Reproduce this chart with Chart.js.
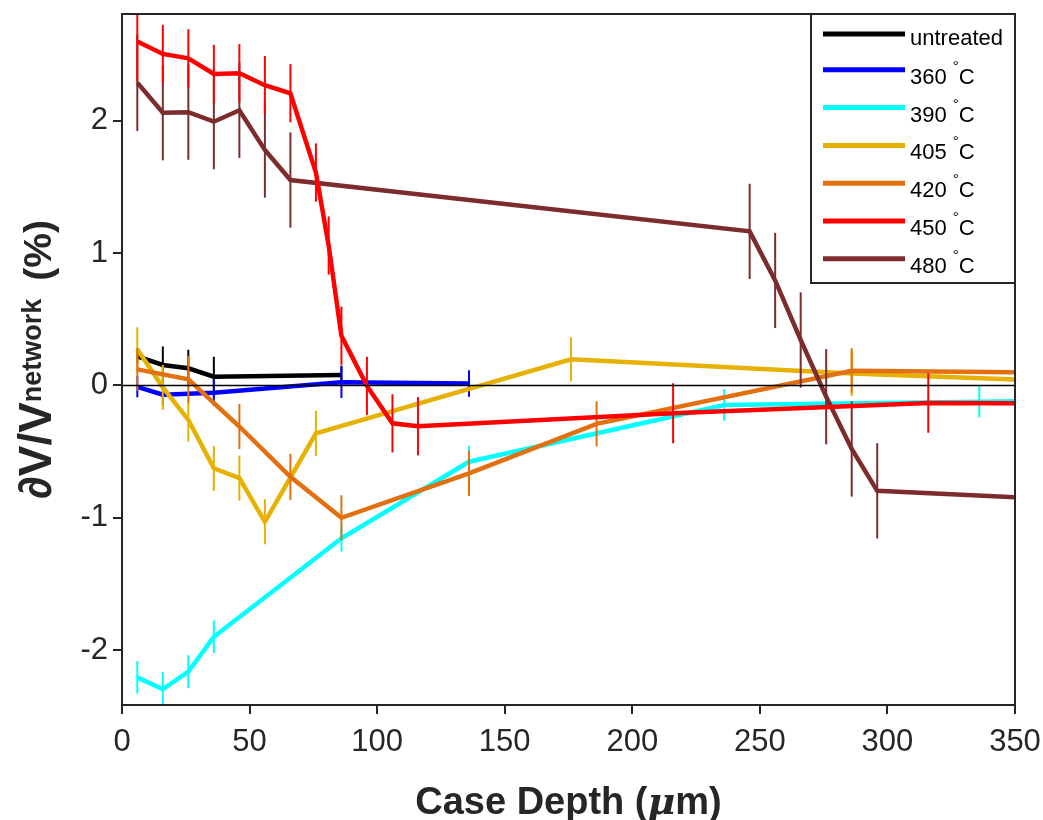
<!DOCTYPE html>
<html>
<head>
<meta charset="utf-8">
<title>Case depth</title>
<script src="https://cdn.jsdelivr.net/npm/chart.js@4.4.1/dist/chart.umd.min.js"></script>
<style>
  html, body { margin: 0; background: #fff; }
  canvas { display: block; }
</style>
</head>
<body>
<canvas id="chart" width="1043" height="820"></canvas>
<script>
// ── Data: case depth (µm), dV/V (%) and error half-widths per treatment ─────
const untreatedDepth = [6, 16, 26, 36, 86];
const untreatedDv    = [0.22, 0.155, 0.13, 0.067, 0.08];
const untreatedErr   = [0.05, 0.14, 0.14, 0.15, 0.07];

const t360Depth = [6, 16, 36, 86, 136];
const t360Dv    = [-0.01, -0.07, -0.055, 0.025, 0.015];
const t360Err   = [0.08, 0.08, 0.1, 0.12, 0.1];

const t390Depth = [6, 16, 26, 36, 86, 136, 236, 336, 350];
const t390Dv    = [-2.206, -2.296, -2.163, -1.899, -1.155, -0.576, -0.147, -0.122, -0.12];
const t390Err   = [0.123, 0.13, 0.125, 0.123, 0.1, 0.12, 0.12, 0.12, null];

const t405Depth = [6, 16, 26, 36, 46, 56, 76, 176, 286, 350];
const t405Dv    = [0.274, -0.014, -0.26, -0.626, -0.70, -1.03, -0.362, 0.198, 0.09, 0.045];
const t405Err   = [0.166, 0.17, 0.164, 0.17, 0.17, 0.17, 0.17, 0.167, 0.17, null];

const t420Depth = [6, 26, 46, 66, 86, 136, 186, 286, 350];
const t420Dv    = [0.122, 0.047, -0.31, -0.69, -1.0, -0.664, -0.29, 0.112, 0.1];
const t420Err   = [0.16, 0.176, 0.17, 0.174, 0.17, 0.17, 0.17, 0.17, null];

const t450Depth = [6, 16, 26, 36, 46, 56, 66, 76, 81, 86, 96, 106, 116, 216, 316, 350];
const t450Dv    = [2.6, 2.506, 2.473, 2.355, 2.36, 2.27, 2.209, 1.61, 1.058, 0.376, -0.003, -0.286, -0.308, -0.21, -0.132, -0.135];
const t450Err   = [0.3, 0.22, 0.22, 0.22, 0.22, 0.22, 0.22, 0.22, 0.22, 0.22, 0.22, 0.22, 0.22, 0.227, 0.225, null];

const t480Depth = [6, 16, 26, 36, 46, 56, 66, 246, 256, 266, 276, 286, 296, 350];
const t480Dv    = [2.289, 2.062, 2.066, 1.994, 2.08, 1.78, 1.553, 1.165, 0.794, 0.344, -0.085, -0.48, -0.796, -0.845];
const t480Err   = [0.365, 0.36, 0.36, 0.36, 0.36, 0.36, 0.36, 0.36, 0.36, 0.36, 0.36, 0.36, 0.36, null];

const xTicks = [0, 50, 100, 150, 200, 250, 300, 350];
const yTicks = [-2, -1, 0, 1, 2];

// ── Style ────────────────────────────────────────────────────────────────────
const FONT = "'Liberation Sans', Arial, Helvetica, sans-serif";
const AXIS = '#262626';

const series = [
  { label: 'untreated', depth: untreatedDepth, dv: untreatedDv, err: untreatedErr, color: '#000000', z: 7 },
  { label: '360 °C',    depth: t360Depth,      dv: t360Dv,      err: t360Err,      color: '#0000ff', z: 6 },
  { label: '390 °C',    depth: t390Depth,      dv: t390Dv,      err: t390Err,      color: '#00ffff', z: 5 },
  { label: '405 °C',    depth: t405Depth,      dv: t405Dv,      err: t405Err,      color: '#e6b100', z: 4 },
  { label: '420 °C',    depth: t420Depth,      dv: t420Dv,      err: t420Err,      color: '#e2700f', z: 3 },
  { label: '450 °C',    depth: t450Depth,      dv: t450Dv,      err: t450Err,      color: '#ff0000', z: 1 },
  { label: '480 °C',    depth: t480Depth,      dv: t480Dv,      err: t480Err,      color: '#7c2c2c', z: 2 },
];

// ── Plugins ──────────────────────────────────────────────────────────────────
// vertical error bars (no caps), drawn right after each dataset's line
const errorBars = {
  id: 'errorBars',
  afterDatasetDraw(chart, args) {
    const ds = chart.data.datasets[args.index];
    if (!ds.errors) return;
    const { ctx, chartArea: a, scales: { x, y } } = chart;
    ctx.save();
    ctx.beginPath();
    ctx.rect(a.left, a.top, a.width, a.height);
    ctx.clip();
    ctx.strokeStyle = ds.borderColor;
    ctx.lineWidth = 2;
    ds.data.forEach((p, i) => {
      const e = ds.errors[i];
      if (e == null) return;
      const px = x.getPixelForValue(p.x);
      ctx.beginPath();
      ctx.moveTo(px, y.getPixelForValue(p.y + e));
      ctx.lineTo(px, y.getPixelForValue(p.y - e));
      ctx.stroke();
    });
    ctx.restore();
  }
};

// legend label with a raised degree sign
function drawDegreeLabel(ctx, text, x, baseline) {
  const [num, unit] = text.split('°');
  ctx.font = `22px ${FONT}`;
  ctx.fillText(num, x, baseline);
  let cx = x + ctx.measureText(num).width;
  if (unit === undefined) return;
  ctx.font = `15px ${FONT}`;
  ctx.fillText('°', cx, baseline - 13);
  cx += ctx.measureText('°').width;
  ctx.font = `22px ${FONT}`;
  ctx.fillText(unit, cx, baseline);
}

// zero line, box frame, legend and axis titles
const decorations = {
  id: 'decorations',
  afterDatasetsDraw(chart) {
    const { ctx, chartArea: a, scales: { y } } = chart;
    const y0 = y.getPixelForValue(0);
    ctx.save();
    ctx.strokeStyle = '#000';
    ctx.lineWidth = 1.5;
    ctx.beginPath();
    ctx.moveTo(a.left, y0);
    ctx.lineTo(a.right, y0);
    ctx.stroke();
    ctx.restore();
  },
  afterDraw(chart) {
    const { ctx, chartArea: a } = chart;
    ctx.save();

    // frame
    ctx.strokeStyle = AXIS;
    ctx.lineWidth = 2;
    ctx.strokeRect(a.left, a.top, a.width, a.height);

    // legend
    const lw = 204, lh = 269;
    const lx = a.right - lw, ly = a.top;
    ctx.fillStyle = '#fff';
    ctx.fillRect(lx, ly, lw, lh);
    ctx.strokeRect(lx, ly, lw, lh);
    series.forEach((s, i) => {
      const rowY = ly + 20 + i * 37.8 + (i > 0 ? -2 : 0);
      ctx.strokeStyle = s.color;
      ctx.lineWidth = 5;
      ctx.beginPath();
      ctx.moveTo(lx + 12, rowY);
      ctx.lineTo(lx + 94, rowY);
      ctx.stroke();
      ctx.fillStyle = '#000';
      ctx.textBaseline = 'alphabetic';
      drawDegreeLabel(ctx, s.label, lx + 99, rowY + (i > 0 ? 14 : 11));
    });

    // x title
    ctx.fillStyle = '#262626';
    const xParts = [
      ['Case Depth (', `bold 38px ${FONT}`],
      ['μ', `italic bold 38px 'DejaVu Serif', serif`],
      ['m)', `bold 38px ${FONT}`],
    ];
    let total = 0;
    xParts.forEach(([t, f]) => { ctx.font = f; total += ctx.measureText(t).width; });
    let cx = (a.left + a.right) / 2 - total / 2;
    xParts.forEach(([t, f]) => {
      ctx.font = f;
      ctx.fillText(t, cx, 814);
      cx += ctx.measureText(t).width;
    });

    // y title, rotated
    const yParts = [
      ['∂V/V', `bold 46px ${FONT}`, 0, 0],
      ['network', `bold 27px ${FONT}`, -10, 0],
      ['(%)', `bold 39px ${FONT}`, 0, 18],
    ];
    total = 0;
    yParts.forEach(([t, f, , gap]) => { ctx.font = f; total += ctx.measureText(t).width + gap; });
    ctx.translate(51, (a.top + a.bottom) / 2);
    ctx.rotate(-Math.PI / 2);
    cx = -total / 2;
    yParts.forEach(([t, f, dy, gap]) => {
      ctx.font = f;
      cx += gap;
      ctx.fillText(t, cx, dy);
      cx += ctx.measureText(t).width;
    });
    ctx.restore();
  }
};

// ── Chart ────────────────────────────────────────────────────────────────────
new Chart(document.getElementById('chart'), {
  type: 'line',
  data: {
    datasets: series.map(s => ({
      label: s.label,
      data: s.depth.map((d, i) => ({ x: d, y: s.dv[i] })),
      errors: s.err,
      borderColor: s.color,
      backgroundColor: s.color,
      borderWidth: 4.5,
      pointRadius: 0,
      tension: 0,
      fill: false,
      clip: 0,
      order: s.z,
    })),
  },
  options: {
    responsive: false,
    animation: false,
    devicePixelRatio: 1,
    layout: { padding: { top: 14, right: 28, left: 0, bottom: 0 } },
    plugins: { legend: { display: false }, tooltip: { enabled: false } },
    scales: {
      x: {
        type: 'linear', min: 0, max: 350,
        afterBuildTicks: s => { s.ticks = xTicks.map(v => ({ value: v })); },
        afterFit: s => { s.height = 115; s.paddingLeft = 0; s.paddingRight = 0; },
        ticks: { font: { family: FONT, size: 31 }, color: AXIS, padding: 10, maxRotation: 0, autoSkip: false },
        grid: { drawOnChartArea: false, tickLength: 9, color: AXIS, lineWidth: 2 },
        border: { display: false },
      },
      y: {
        type: 'linear', min: -2.415, max: 2.808,
        afterBuildTicks: s => { s.ticks = yTicks.map(v => ({ value: v })); },
        afterFit: s => { s.width = 122; s.paddingTop = 0; s.paddingBottom = 0; },
        ticks: { font: { family: FONT, size: 31 }, color: AXIS, padding: 5, autoSkip: false },
        grid: { drawOnChartArea: false, tickLength: 9, color: AXIS, lineWidth: 2 },
        border: { display: false },
      },
    },
  },
  plugins: [errorBars, decorations],
});
</script>
</body>
</html>
